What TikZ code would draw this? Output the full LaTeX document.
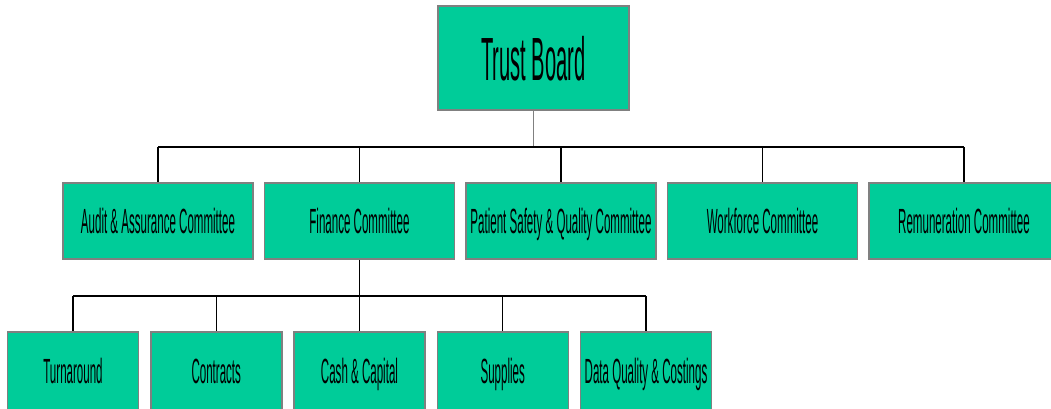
\documentclass[tikz,border=0pt]{standalone}
\usepackage{fontspec}
\newfontfamily\condfont[FakeStretch=0.33]{Liberation Sans}
\definecolor{boardgreen}{RGB}{0,204,153}
\tikzset{
  unit/.style={draw=gray, line width=1.5pt, fill=boardgreen, inner sep=0pt,
    text height=25pt, text depth=0pt,
    font=\condfont\fontsize{35}{40}\selectfont},
  board/.style={unit, minimum width=191pt, minimum height=104pt,
    text height=44pt, font=\condfont\fontsize{61}{70}\selectfont},
  committee/.style={unit, minimum width=190pt, minimum height=76pt},
  subgroup/.style={unit, minimum width=131pt, minimum height=78pt},
  bus/.style={line width=2.6pt},
  drop/.style={line width=1.1pt}
}

\begin{document}
\begin{tikzpicture}[x=1pt, y=-1pt]
\useasboundingbox (0,0) rectangle (1051,408);
% Board
\node[board] (trust) at (533.5,58) {Trust Board};
% Committees
\node[committee] (audit) at (158,221) {Audit \& Assurance Committee};
\node[committee] (finance) at (359.5,221) {Finance Committee};
\node[committee] (safety) at (561,221) {Patient Safety \& Quality Committee};
\node[committee] (workforce) at (762.5,221) {Workforce Committee};
\node[committee] (remun) at (964,221) {Remuneration Committee};
% Finance sub groups
\node[subgroup] (turn) at (73,371) {Turnaround};
\node[subgroup] (contracts) at (216.25,371) {Contracts};
\node[subgroup] (cash) at (359.5,371) {Cash \& Capital};
\node[subgroup] (supplies) at (502.75,371) {Supplies};
\node[subgroup] (dataq) at (646,371) {Data Quality \& Costings};
% Board to committees
\coordinate (topbus) at (533.5,147);
\draw[drop, gray] (trust.south) -- (topbus);
\draw[bus] (audit.north |- topbus) -- (remun.north |- topbus);
\foreach \c in {audit, finance, safety, workforce, remun}
  \draw[drop] (\c.north |- topbus) -- (\c.north);
% Finance to sub groups
\coordinate (lowbus) at (359.5,296);
\draw[drop] (finance.south) -- (lowbus);
\draw[bus] (turn.north |- lowbus) -- (dataq.north |- lowbus);
\foreach \g in {turn, contracts, cash, supplies, dataq}
  \draw[drop] (\g.north |- lowbus) -- (\g.north);
\end{tikzpicture}
\end{document}
